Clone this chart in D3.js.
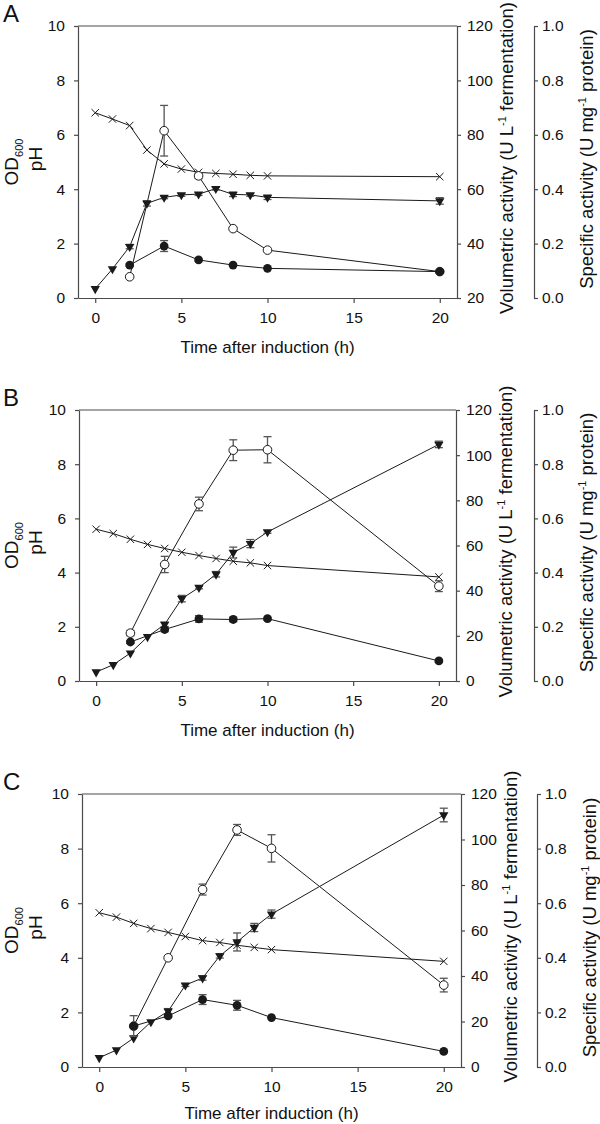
<!DOCTYPE html>
<html>
<head>
<meta charset="utf-8">
<script src="https://cdn.jsdelivr.net/npm/d3@7"></script>
<style>
body { margin: 0; background: #fff; }
svg text { font-family: "Liberation Sans", Arial, sans-serif; fill: #111; }
</style>
</head>
<body>
<div id="chart"></div>
<script>
'use strict';

var hoursAll = [0, 1, 2, 3, 4, 5, 6, 7, 8, 9, 10, 20];
var hoursAssay = [2, 4, 6, 8, 10, 20];
var panelLabels = ['A', 'B', 'C'];
var xTicks = [0, 5, 10, 15, 20];
var leftTicks = [0, 2, 4, 6, 8, 10];
var volTicksA = [20, 40, 60, 80, 100, 120];
var volTicksBC = [0, 20, 40, 60, 80, 100, 120];
var specTicks = [0, 0.2, 0.4, 0.6, 0.8, 1.0];

// panel A
var odA = [0.34, 1.07, 1.89, 3.48, 3.70, 3.79, 3.82, 4.02, 3.81, 3.79, 3.70, 3.57];
var odErrA = [0, 0, 0.08, 0.1, 0.05, 0.05, 0.05, 0.05, 0.08, 0.05, 0.08, 0.12];
var phA = [6.81, 6.58, 6.34, 5.44, 4.93, 4.74, 4.62, 4.58, 4.55, 4.51, 4.49, 4.46];
var volA = [27.8, 81.5, 64.9, 45.5, 37.6, 29.7];
var volErrA = [0, 9.3, 1.0, 0, 0, 0];
var specA = [0.121, 0.191, 0.140, 0.121, 0.109, 0.097];
var specErrA = [0.005, 0.02, 0, 0, 0, 0.005];

// panel B
var odB = [0.33, 0.60, 1.03, 1.63, 2.09, 3.04, 3.45, 3.94, 4.74, 5.07, 5.50, 8.73];
var odErrB = [0, 0, 0, 0, 0.08, 0.12, 0.05, 0.1, 0.2, 0.15, 0.05, 0.12];
var phB = [5.60, 5.44, 5.23, 5.04, 4.89, 4.75, 4.63, 4.52, 4.42, 4.36, 4.26, 3.84];
var volB = [21.2, 51.6, 78.4, 102.2, 102.4, 42.0];
var volErrB = [1.2, 3.6, 3.0, 4.6, 5.8, 2.4];
var specB = [0.144, 0.190, 0.229, 0.227, 0.230, 0.074];
var specErrB = [0.005, 0.008, 0.012, 0.008, 0.005, 0.005];

// panel C
var odC = [0.34, 0.62, 1.06, 1.65, 2.04, 3.00, 3.26, 4.07, 4.58, 5.11, 5.60, 9.23];
var odErrC = [0, 0, 0, 0, 0.1, 0.05, 0.08, 0.08, 0.33, 0.15, 0.15, 0.25];
var phC = [5.65, 5.49, 5.26, 5.07, 4.93, 4.78, 4.63, 4.56, 4.46, 4.38, 4.30, 3.87];
var volC = [18.0, 48.0, 78.0, 104.2, 96.1, 36.0];
var volErrC = [0, 0, 2.4, 2.4, 6.0, 3.0];
var specC = [0.150, 0.187, 0.247, 0.226, 0.181, 0.057];
var specErrC = [0.038, 0.005, 0.018, 0.018, 0, 0];

var panels = [
    {od: odA, odErr: odErrA, ph: phA, vol: volA, volErr: volErrA, spec: specA, specErr: specErrA, volDomain: [20, 120], volTicks: volTicksA},
    {od: odB, odErr: odErrB, ph: phB, vol: volB, volErr: volErrB, spec: specB, specErr: specErrB, volDomain: [0, 120], volTicks: volTicksBC},
    {od: odC, odErr: odErrC, ph: phC, vol: volC, volErr: volErrC, spec: specC, specErr: specErrC, volDomain: [0, 120], volTicks: volTicksBC}
];

// where each panel sits on the page
var boxes = [
    {left: 78, right: 457, top: 26, bottom: 298, third: 534, titleGap: 55},
    {left: 79, right: 456, top: 410, bottom: 681, third: 534, titleGap: 55},
    {left: 82, right: 461, top: 794, bottom: 1067, third: 537, titleGap: 52}
];

var axisColor = '#4a4a4a';
var lineColor = '#1a1a1a';
var errColor = '#555';

var svg = d3.select('#chart')
    .append('svg')
    .attr('width', 600)
    .attr('height', 1124);

function styleAxis(sel) {
    sel.attr('font-size', null).attr('font-family', null);
    sel.select('.domain').attr('stroke', axisColor).attr('stroke-width', 1.2);
    sel.selectAll('.tick line').attr('stroke', axisColor).attr('stroke-width', 1.2);
    sel.selectAll('.tick text').style('font-size', '15.5px');
}

function drawSeries(g, x, yScale, xs, ys, errs, kind) {
    var pts = xs.map(function(t, i) { return [t, ys[i], errs ? errs[i] : 0]; });

    g.append('path')
        .datum(pts)
        .attr('fill', 'none')
        .attr('stroke', lineColor)
        .attr('stroke-width', 1)
        .attr('d', d3.line()
            .x(function(d) { return x(d[0]); })
            .y(function(d) { return yScale(d[1]); }));

    var eb = g.append('g')
        .attr('stroke', errColor)
        .attr('stroke-width', 1.3);
    pts.filter(function(d) { return d[2] > 0; }).forEach(function(d) {
        var cx = x(d[0]),
            y0 = yScale(d[1] - d[2]),
            y1 = yScale(d[1] + d[2]);
        eb.append('line').attr('x1', cx).attr('x2', cx).attr('y1', y0).attr('y2', y1);
        eb.append('line').attr('x1', cx - 4).attr('x2', cx + 4).attr('y1', y0).attr('y2', y0);
        eb.append('line').attr('x1', cx - 4).attr('x2', cx + 4).attr('y1', y1).attr('y2', y1);
    });

    var m = g.append('g');
    pts.forEach(function(d) {
        var cx = x(d[0]), cy = yScale(d[1]);
        if (kind === 'cross') {
            m.append('path')
                .attr('d', 'M-3.7,-3.7L3.7,3.7M-3.7,3.7L3.7,-3.7')
                .attr('transform', 'translate(' + cx + ',' + cy + ')')
                .attr('stroke', lineColor)
                .attr('stroke-width', 1)
                .attr('fill', 'none');
        } else if (kind === 'triangle') {
            m.append('path')
                .attr('d', d3.symbol().type(d3.symbolTriangle).size(38)())
                .attr('transform', 'translate(' + cx + ',' + cy + ') rotate(180)')
                .attr('fill', lineColor);
        } else if (kind === 'open') {
            m.append('circle')
                .attr('cx', cx).attr('cy', cy).attr('r', 4.3)
                .attr('fill', '#fff')
                .attr('stroke', lineColor)
                .attr('stroke-width', 1);
        } else {
            m.append('circle')
                .attr('cx', cx).attr('cy', cy).attr('r', 4.4)
                .attr('fill', lineColor);
        }
    });
}

function drawPanel(p, box, label) {
    var x = d3.scaleLinear().domain([-1, 21]).range([box.left, box.right]);
    var y = d3.scaleLinear().domain([0, 10]).range([box.bottom, box.top]);
    var yVol = d3.scaleLinear().domain(p.volDomain).range([box.bottom, box.top]);
    var ySpec = d3.scaleLinear().domain([0, 1]).range([box.bottom, box.top]);
    var midY = (box.top + box.bottom) / 2;

    var g = svg.append('g').attr('class', 'panel');

    g.append('text')
        .attr('x', 3)
        .attr('y', box.top - 4)
        .style('font-size', '24px')
        .text(label);

    g.append('line')
        .attr('x1', box.left).attr('x2', box.right)
        .attr('y1', box.top).attr('y2', box.top)
        .attr('stroke', axisColor)
        .attr('stroke-width', 1.2);

    g.append('g')
        .attr('transform', 'translate(0,' + box.bottom + ')')
        .call(d3.axisBottom(x).tickValues(xTicks).tickSize(5).tickSizeOuter(0).tickPadding(9))
        .call(styleAxis);

    g.append('g')
        .attr('transform', 'translate(' + box.left + ',0)')
        .call(d3.axisLeft(y).tickValues(leftTicks).tickSize(4).tickSizeOuter(0).tickPadding(9))
        .call(styleAxis);

    g.append('g')
        .attr('transform', 'translate(' + box.right + ',0)')
        .call(d3.axisRight(yVol).tickValues(p.volTicks).tickSize(4).tickSizeOuter(0).tickPadding(6))
        .call(styleAxis);

    g.append('g')
        .attr('transform', 'translate(' + box.third + ',0)')
        .call(d3.axisRight(ySpec).tickValues(specTicks).tickFormat(d3.format('.1f')).tickSize(4).tickSizeOuter(0).tickPadding(4))
        .call(styleAxis);

    g.append('text')
        .attr('x', (box.left + box.right) / 2)
        .attr('y', box.bottom + box.titleGap)
        .attr('text-anchor', 'middle')
        .style('font-size', '17px')
        .text('Time after induction (h)');

    var od = g.append('text')
        .attr('transform', 'translate(18,' + midY + ') rotate(-90)')
        .attr('text-anchor', 'middle')
        .style('font-size', '19px');
    od.append('tspan').text('OD');
    od.append('tspan').attr('dy', 5).style('font-size', '11px').text('600');

    g.append('text')
        .attr('transform', 'translate(42,' + (midY - 3) + ') rotate(-90)')
        .attr('text-anchor', 'middle')
        .style('font-size', '19px')
        .text('pH');

    var vt = g.append('text')
        .attr('transform', 'translate(' + (box.right + 56) + ',' + (midY - 4) + ') rotate(-90)')
        .attr('text-anchor', 'middle')
        .style('font-size', '18.5px');
    vt.append('tspan').text('Volumetric activity (U L');
    vt.append('tspan').attr('dy', -7).style('font-size', '11px').text('-1');
    vt.append('tspan').attr('dy', 7).text(' fermentation)');

    var st = g.append('text')
        .attr('transform', 'translate(' + (box.third + 59) + ',' + (midY - 3) + ') rotate(-90)')
        .attr('text-anchor', 'middle')
        .style('font-size', '18.5px');
    st.append('tspan').text('Specific activity (U mg');
    st.append('tspan').attr('dy', -7).style('font-size', '11px').text('-1');
    st.append('tspan').attr('dy', 7).text('  protein)');

    drawSeries(g, x, y, hoursAll, p.ph, null, 'cross');
    drawSeries(g, x, y, hoursAll, p.od, p.odErr, 'triangle');
    drawSeries(g, x, yVol, hoursAssay, p.vol, p.volErr, 'open');
    drawSeries(g, x, ySpec, hoursAssay, p.spec, p.specErr, 'filled');
}

panels.forEach(function(p, i) {
    drawPanel(p, boxes[i], panelLabels[i]);
});
</script>
</body>
</html>
